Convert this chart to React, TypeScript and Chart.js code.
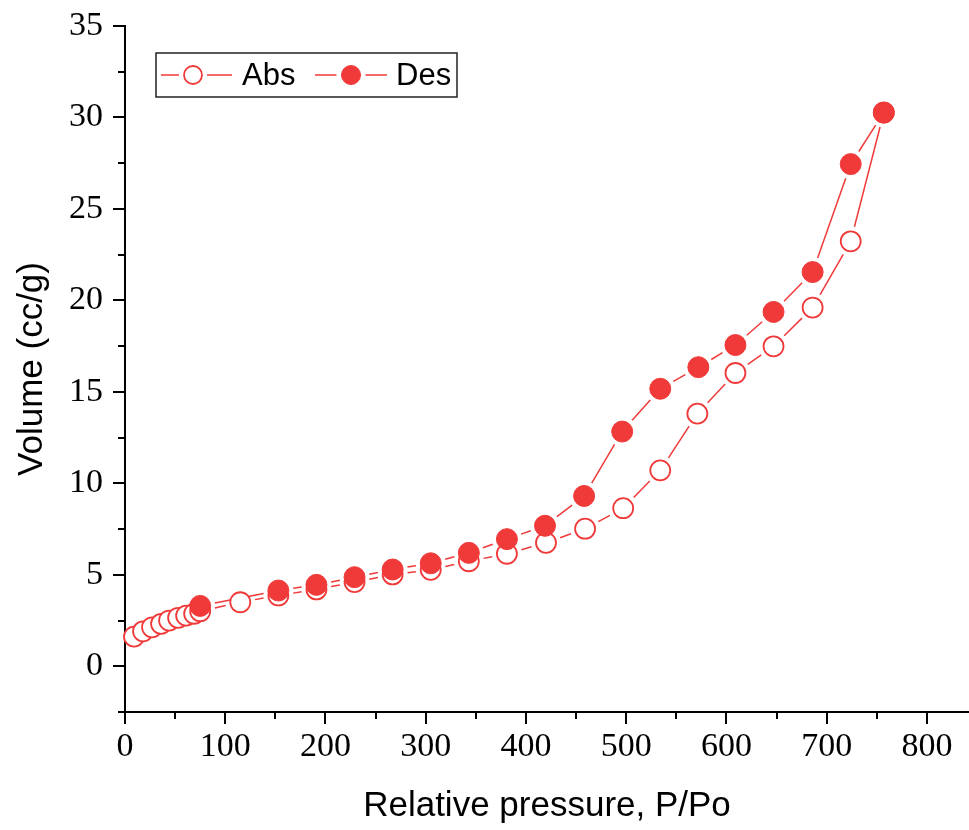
import React, { useEffect, useRef } from "react";
import { Chart, registerables } from "chart.js";

Chart.register(...registerables);

// ---- data ----
const seriesLabels = ["Abs", "Des"];
const absX = [9, 18, 27, 36, 44, 53, 61, 69, 75, 115, 153, 191, 229, 267, 305, 343, 381, 420, 459, 497, 534, 571, 609, 647, 686, 724, 757];
const absY = [1.62, 1.91, 2.13, 2.32, 2.5, 2.65, 2.77, 2.87, 3.01, 3.5, 3.87, 4.2, 4.6, 5.02, 5.27, 5.74, 6.15, 6.75, 7.52, 8.64, 10.71, 13.81, 16.03, 17.49, 19.61, 23.23, 30.27];
const desX = [757, 724, 686, 647, 609, 572, 534, 496, 458, 419, 381, 343, 305, 267, 229, 191, 153, 75];
const desY = [30.27, 27.45, 21.55, 19.37, 17.56, 16.35, 15.17, 12.83, 9.31, 7.68, 6.95, 6.2, 5.63, 5.29, 4.87, 4.45, 4.14, 3.3];
const xTicks = [0, 100, 200, 300, 400, 500, 600, 700, 800];
const yTicks = [0, 5, 10, 15, 20, 25, 30, 35];
const xMinorTicks = [50, 150, 250, 350, 450, 550, 650, 750];
const yMinorTicks = [-2.5, 2.5, 7.5, 12.5, 17.5, 22.5, 27.5, 32.5];
const xTitle = "Relative pressure, P/Po";
const yTitle = "Volume (cc/g)";

const RED = "rgb(240,58,58)";
const SERIF = "'Liberation Serif', 'Times New Roman', serif";
const SANS = "'Liberation Sans', Arial, sans-serif";

const gappedLines = {
  id: "gappedLines",
  beforeDatasetsDraw(chart: any) {
    const ctx = chart.ctx;
    ctx.save();
    chart.data.datasets.forEach((ds: any, i: number) => {
      const meta = chart.getDatasetMeta(i);
      const pts = meta.data;
      ctx.strokeStyle = ds.borderColor;
      ctx.lineWidth = 1.5;
      const gap = 15;
      for (let k = 0; k < pts.length - 1; k++) {
        const a = pts[k], b = pts[k + 1];
        const dx = b.x - a.x, dy = b.y - a.y;
        const len = Math.hypot(dx, dy);
        if (len <= 2 * gap) continue;
        const ux = dx / len, uy = dy / len;
        ctx.beginPath();
        ctx.moveTo(a.x + ux * gap, a.y + uy * gap);
        ctx.lineTo(b.x - ux * gap, b.y - uy * gap);
        ctx.stroke();
      }
    });
    ctx.restore();
  },
};

const minorTicks = {
  id: "minorTicks",
  afterDraw(chart: any) {
    const ctx = chart.ctx;
    const xs = chart.scales.x, ys = chart.scales.y;
    const area = chart.chartArea;
    ctx.save();
    ctx.strokeStyle = "#000";
    ctx.lineWidth = 2;
    xMinorTicks.forEach((v) => {
      const px = Math.round(xs.getPixelForValue(v));
      ctx.beginPath();
      ctx.moveTo(px, area.bottom);
      ctx.lineTo(px, area.bottom + 7);
      ctx.stroke();
    });
    yMinorTicks.forEach((v) => {
      const py = Math.round(ys.getPixelForValue(v));
      ctx.beginPath();
      ctx.moveTo(area.left, py);
      ctx.lineTo(area.left - 7, py);
      ctx.stroke();
    });
    ctx.restore();
  },
};

const boxLegend = {
  id: "boxLegend",
  afterDraw(chart: any) {
    const ctx = chart.ctx;
    ctx.save();
    const bx = 156, by = 53, bw = 301, bh = 44;
    ctx.strokeStyle = "#222";
    ctx.lineWidth = 1.5;
    ctx.strokeRect(bx, by, bw, bh);
    const cy = by + bh / 2;
    const items = [
      { x0: 161, cx: 193, x1: 232, tx: 242 },
      { x0: 315, cx: 351, x1: 387, tx: 396 },
    ];
    chart.data.datasets.forEach((ds: any, i: number) => {
      const it = items[i];
      const r = ds.pointRadius - 1;
      ctx.strokeStyle = ds.borderColor;
      ctx.lineWidth = 1.5;
      ctx.beginPath();
      ctx.moveTo(it.x0, cy);
      ctx.lineTo(it.cx - r - 5, cy);
      ctx.moveTo(it.cx + r + 5, cy);
      ctx.lineTo(it.x1, cy);
      ctx.stroke();
      ctx.beginPath();
      ctx.arc(it.cx, cy, r, 0, Math.PI * 2);
      ctx.fillStyle = ds.pointBackgroundColor;
      ctx.fill();
      ctx.lineWidth = ds.pointBorderWidth;
      ctx.strokeStyle = ds.pointBorderColor;
      ctx.stroke();
      ctx.fillStyle = "#000";
      ctx.font = `31px ${SANS}`;
      ctx.textBaseline = "middle";
      ctx.textAlign = "left";
      ctx.fillText(ds.label, it.tx, cy + 1);
    });
    ctx.restore();
  },
};

export default function App() {
  const ref = useRef<HTMLCanvasElement | null>(null);
  useEffect(() => {
    if (!ref.current) return;
    const chart = new Chart(ref.current, {
      type: "scatter",
      data: {
        datasets: [
          {
            label: seriesLabels[0],
            data: absX.map((x, i) => ({ x, y: absY[i] })),
            showLine: false,
            borderColor: RED,
            pointBackgroundColor: "#fff",
            pointBorderColor: RED,
            pointBorderWidth: 1.8,
            pointRadius: 10,
            pointHoverRadius: 10,
            clip: false,
            order: 2,
          },
          {
            label: seriesLabels[1],
            data: desX.map((x, i) => ({ x, y: desY[i] })),
            showLine: false,
            borderColor: RED,
            pointBackgroundColor: RED,
            pointBorderColor: RED,
            pointBorderWidth: 1,
            pointRadius: 10.5,
            pointHoverRadius: 10.5,
            clip: false,
            order: 1,
          },
        ] as any,
      },
      options: {
        responsive: false,
        animation: false,
        events: [],
        layout: { autoPadding: false, padding: { top: 26, right: 0, left: 0, bottom: 0 } },
        plugins: { legend: { display: false }, tooltip: { enabled: false } },
        scales: {
          x: {
            type: "linear",
            min: 0,
            max: 842,
            afterBuildTicks: (s: any) => {
              s.ticks = xTicks.map((v) => ({ value: v }));
            },
            afterFit: (s: any) => {
              s.height = 118;
              s.paddingLeft = 0;
              s.paddingRight = 0;
            },
            grid: { drawOnChartArea: false, drawTicks: true, tickLength: 12, lineWidth: 2, color: "#000" },
            border: { display: true, color: "#000", width: 2 },
            ticks: { color: "#000", font: { family: SERIF, size: 34 }, padding: 3, maxRotation: 0, autoSkip: false },
            title: { display: true, text: xTitle, color: "#000", font: { family: SANS, size: 35 }, padding: { top: 0, bottom: 3 } },
          },
          y: {
            type: "linear",
            min: -2.5,
            max: 35,
            afterBuildTicks: (s: any) => {
              s.ticks = yTicks.map((v) => ({ value: v }));
            },
            afterFit: (s: any) => {
              s.width = 125;
              s.paddingTop = 0;
              s.paddingBottom = 0;
            },
            grid: { drawOnChartArea: false, drawTicks: true, tickLength: 12, lineWidth: 2, color: "#000" },
            border: { display: true, color: "#000", width: 2 },
            ticks: { color: "#000", font: { family: SERIF, size: 34 }, padding: 10, autoSkip: false },
            title: { display: true, text: yTitle, color: "#000", font: { family: SANS, size: 35 }, padding: { top: 11, bottom: 0 } },
          },
        },
      } as any,
      plugins: [gappedLines, minorTicks, boxLegend],
    });
    return () => chart.destroy();
  }, []);
  return (
    <div style={{ position: "absolute", left: 0, top: 0, width: 969, height: 830, background: "#fff" }}>
      <canvas ref={ref} width={969} height={830} style={{ display: "block" }} />
    </div>
  );
}
